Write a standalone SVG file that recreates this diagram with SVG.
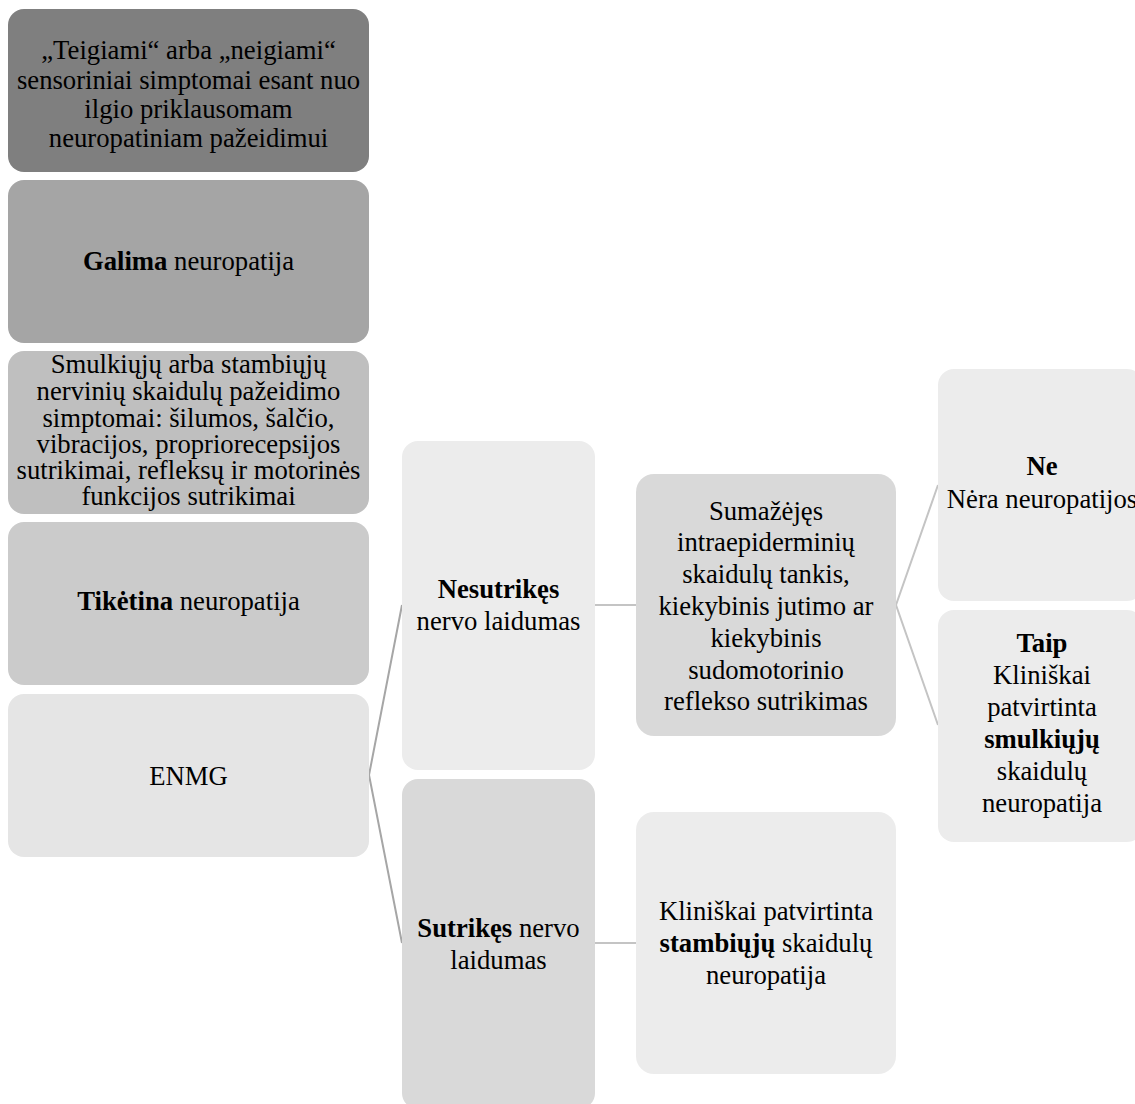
<svg xmlns="http://www.w3.org/2000/svg" width="1135" height="1104" viewBox="0 0 1135 1104">
<style>
text{font-family:"Liberation Serif","Times New Roman",serif;font-size:26.7px;fill:#000;text-anchor:middle}
.b{font-weight:bold}
.c1{stroke:#a6a6a6;stroke-width:2;fill:none}
.c2{stroke:#c4c4c4;stroke-width:2;fill:none}
</style>
<rect width="1135" height="1104" fill="#fff"/>
<g id="connectors">
<polyline class="c1" points="402,605 369,775 402,943"/>
<line class="c2" x1="595" y1="605" x2="636" y2="605"/>
<polyline class="c2" points="938,485 896,605 938,725"/>
<line class="c2" x1="595" y1="943" x2="636" y2="943"/>
</g>
<g id="n1"><rect x="8" y="9" width="361" height="163" rx="16" fill="#7f7f7f"/>
<text x="188.5" y="59">„Teigiami“ arba „neigiami“</text>
<text x="188.5" y="89">sensoriniai simptomai esant nuo</text>
<text x="188.5" y="118">ilgio priklausomam</text>
<text x="188.5" y="147">neuropatiniam pažeidimui</text></g>
<g id="n2"><rect x="8" y="180" width="361" height="163" rx="16" fill="#a5a5a5"/>
<text x="188.5" y="270"><tspan class="b">Galima</tspan> neuropatija</text></g>
<g id="n3"><rect x="8" y="351" width="361" height="163" rx="16" fill="#bfbfbf"/>
<text x="188.5" y="373">Smulkiųjų arba stambiųjų</text>
<text x="188.5" y="400">nervinių skaidulų pažeidimo</text>
<text x="188.5" y="427">simptomai: šilumos, šalčio,</text>
<text x="188.5" y="453">vibracijos, propriorecepsijos</text>
<text x="188.5" y="479">sutrikimai, refleksų ir motorinės</text>
<text x="188.5" y="505">funkcijos sutrikimai</text></g>
<g id="n4"><rect x="8" y="522" width="361" height="163" rx="16" fill="#cbcbcb"/>
<text x="188.5" y="610"><tspan class="b">Tikėtina</tspan> neuropatija</text></g>
<g id="n5"><rect x="8" y="694" width="361" height="163" rx="16" fill="#e5e5e5"/>
<text x="188.5" y="785">ENMG</text></g>
<g id="n6"><rect x="402" y="441" width="193" height="329" rx="16" fill="#ececec"/>
<text x="498.5" y="598" class="b">Nesutrikęs</text>
<text x="498.5" y="630">nervo laidumas</text></g>
<g id="n7"><rect x="402" y="779" width="193" height="330" rx="16" fill="#d9d9d9"/>
<text x="498.5" y="937"><tspan class="b">Sutrikęs</tspan> nervo</text>
<text x="498.5" y="969">laidumas</text></g>
<g id="n8"><rect x="636" y="474" width="260" height="262" rx="18" fill="#d9d9d9"/>
<text x="766" y="520">Sumažėjęs</text>
<text x="766" y="551">intraepiderminių</text>
<text x="766" y="583">skaidulų tankis,</text>
<text x="766" y="615">kiekybinis jutimo ar</text>
<text x="766" y="647">kiekybinis</text>
<text x="766" y="679">sudomotorinio</text>
<text x="766" y="710">reflekso sutrikimas</text></g>
<g id="n9"><rect x="636" y="812" width="260" height="262" rx="18" fill="#ececec"/>
<text x="766" y="920">Kliniškai patvirtinta</text>
<text x="766" y="952"><tspan class="b">stambiųjų</tspan> skaidulų</text>
<text x="766" y="984">neuropatija</text></g>
<g id="n10"><rect x="938" y="369" width="205" height="232" rx="16" fill="#ececec"/>
<text x="1042" y="475" class="b">Ne</text>
<text x="1042" y="508">Nėra neuropatijos</text></g>
<g id="n11"><rect x="938" y="610" width="205" height="232" rx="16" fill="#ececec"/>
<text x="1042" y="652" class="b">Taip</text>
<text x="1042" y="684">Kliniškai</text>
<text x="1042" y="716">patvirtinta</text>
<text x="1042" y="748" class="b">smulkiųjų</text>
<text x="1042" y="780">skaidulų</text>
<text x="1042" y="812">neuropatija</text></g>
</svg>
